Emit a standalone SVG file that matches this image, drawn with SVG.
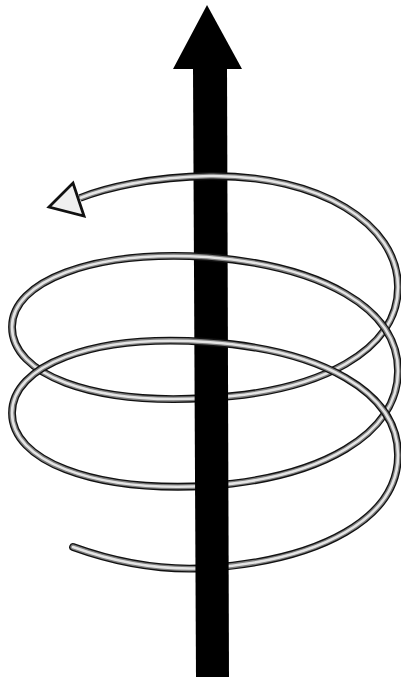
<svg xmlns="http://www.w3.org/2000/svg" xmlns:xlink="http://www.w3.org/1999/xlink" width="401" height="680" viewBox="0 0 401 680">
  <style>
    .t1 { fill: none; stroke: #111111; stroke-width: 7.8; }
    .t2 { fill: none; stroke: #7d7d7d; stroke-width: 5.2; }
    .t3 { fill: none; stroke: #e4e4e4; stroke-width: 2.6; }
    .cap { stroke-linecap: round; }
  </style>
  <defs>
    <path id="b0" d="M73,547 C109,560 157,571 207,568 C322,560 398,518 398,455"/>
    <path id="f1" d="M398,455 C398,392 322,350 207,342 C90,334 12,366 12,413"/>
    <path id="b1" d="M12,413 C12,460 90,492 207,486 C322,478 398,434 398,371"/>
    <path id="f2" d="M398,371 C398,308 322,266 207,257 C90,250 12,282 12,327"/>
    <path id="b2" d="M12,327 C12,374 90,405 207,398 C322,392 398,350 398,287"/>
    <path id="f3" d="M398,287 C398,224 320,175 210,176 C150,177 105,188 80,198"/>
  </defs>
  <rect width="401" height="680" fill="#ffffff"/>

  <g id="helix-back">
    <use xlink:href="#b0" class="t1 cap"/><use xlink:href="#b0" class="t2 cap"/><use xlink:href="#b0" class="t3 cap"/>
    <use xlink:href="#b1" class="t1"/><use xlink:href="#b1" class="t2"/><use xlink:href="#b1" class="t3"/>
    <use xlink:href="#b2" class="t1"/><use xlink:href="#b2" class="t2"/><use xlink:href="#b2" class="t3"/>
  </g>

  <g id="axis-arrow">
    <polygon points="193,68 227,68 229,677 196,677" fill="#000"/>
    <polygon points="207,5 242,69 173,69" fill="#000"/>
  </g>

  <g id="helix-front">
    <use xlink:href="#f1" class="t1"/><use xlink:href="#f1" class="t2"/><use xlink:href="#f1" class="t3"/>
    <use xlink:href="#f2" class="t1"/><use xlink:href="#f2" class="t2"/><use xlink:href="#f2" class="t3"/>
    <use xlink:href="#f3" class="t1"/><use xlink:href="#f3" class="t2"/><use xlink:href="#f3" class="t3"/>
  </g>

  <g id="helix-arrowhead">
    <polygon points="49,207 73,183 84,216" fill="#f0f0f0" stroke="#111111" stroke-width="2.8" stroke-linejoin="miter"/>
  </g>
</svg>
